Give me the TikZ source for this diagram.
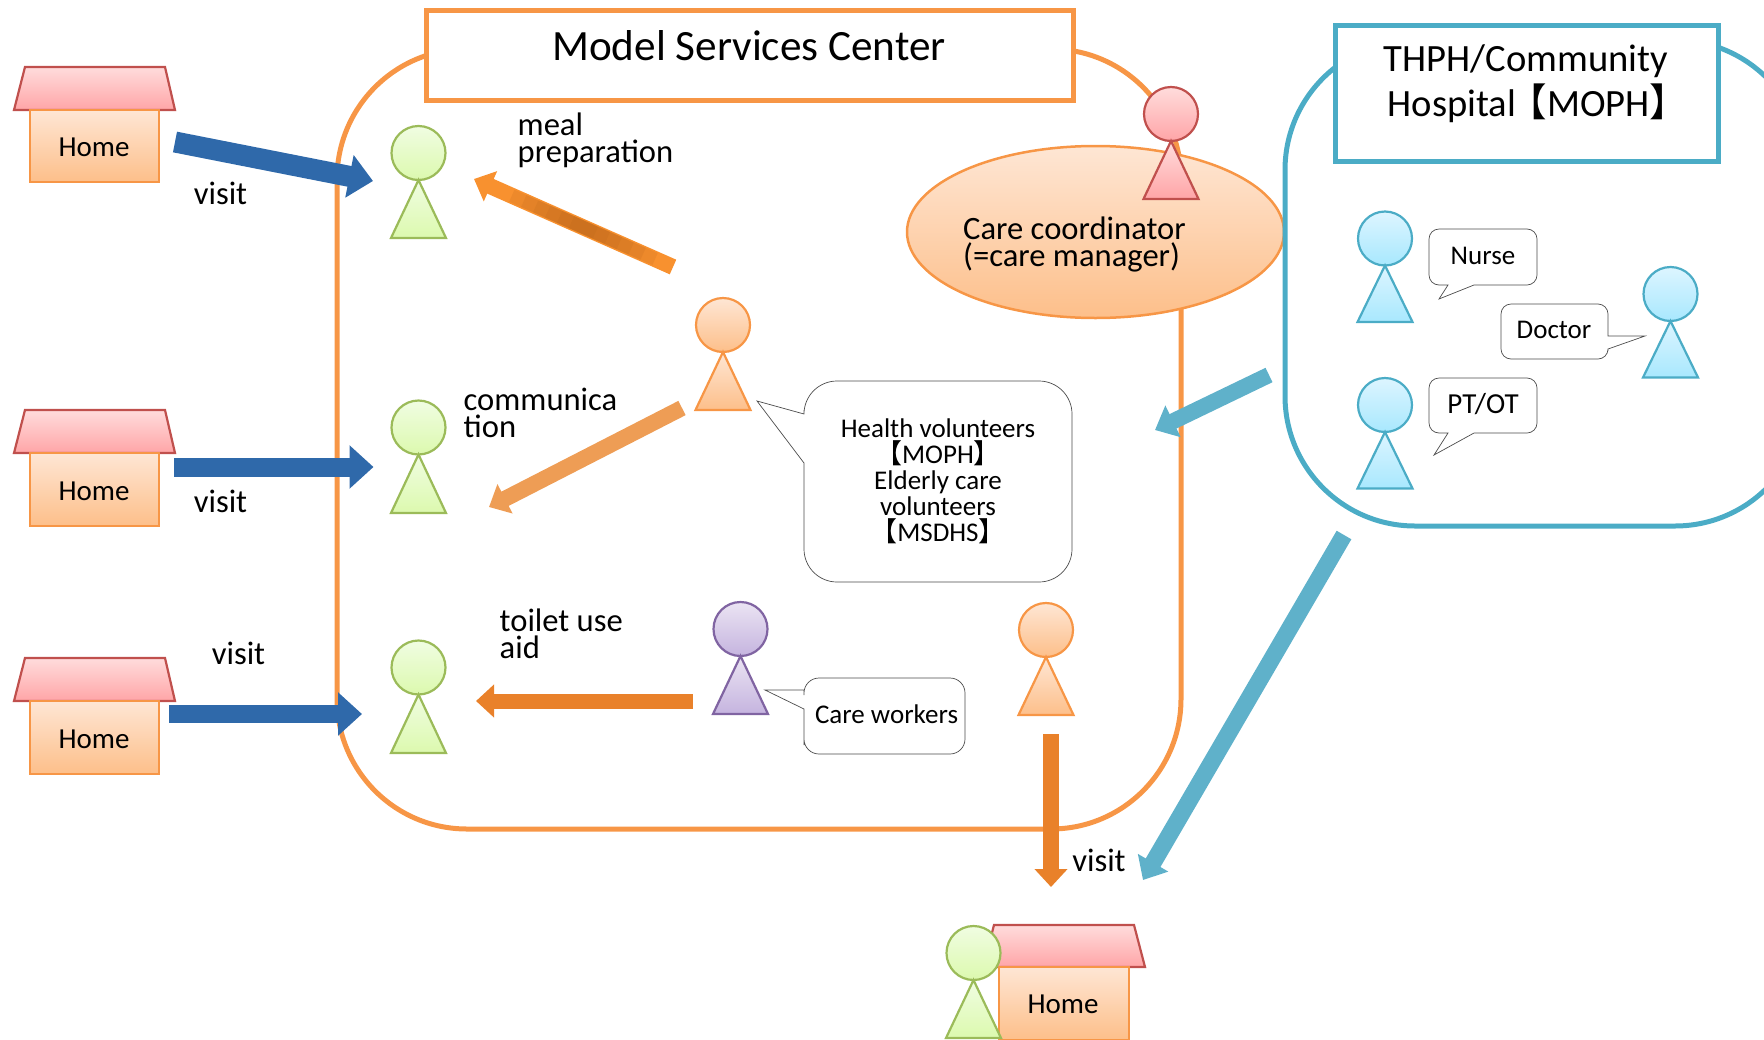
\documentclass[tikz,border=0pt]{standalone}
\usepackage{fontspec}
\setmainfont{Carlito}
\newfontfamily\cjk{Noto Sans CJK JP}
\usetikzlibrary{arrows.meta,shapes.geometric,calc}
\definecolor{orangeline}{HTML}{F79646}
\definecolor{tealline}{HTML}{4BACC6}
\definecolor{greenline}{HTML}{9BBB59}
\definecolor{redline}{HTML}{C0504D}
\definecolor{purpleline}{HTML}{8064A2}
\definecolor{greentop}{HTML}{F0FDE2}
\definecolor{greenbottom}{HTML}{DCF9AE}
\definecolor{orangetop}{HTML}{FEE6D4}
\definecolor{orangebottom}{HTML}{FDBF8A}
\definecolor{redtop}{HTML}{FFDCDC}
\definecolor{redbottom}{HTML}{FFA5A7}
\definecolor{purpletop}{HTML}{EBE4F3}
\definecolor{purplebottom}{HTML}{C5B4DF}
\definecolor{bluetop}{HTML}{DDF5FF}
\definecolor{bluebottom}{HTML}{A8E8FE}
\definecolor{bluearrow}{HTML}{2F69AA}
\definecolor{mealorange}{HTML}{F8912F}
\definecolor{mealdark}{HTML}{B9651A}
\definecolor{commorange}{HTML}{EE9D55}
\definecolor{toiletorange}{HTML}{E9812A}
\definecolor{tealarrow}{HTML}{5FB1CA}
\newcommand{\lbr}{{\cjk 【}}
\newcommand{\rbr}{{\cjk 】}}

\begin{document}
\begin{tikzpicture}[x=1pt,y=-1pt,
  greenfill/.style={draw=greenline,line width=2.2pt,top color=greentop,bottom color=greenbottom},
  orangefill/.style={draw=orangeline,line width=2.2pt,top color=orangetop,bottom color=orangebottom},
  redfill/.style={draw=redline,line width=2.2pt,top color=redtop,bottom color=redbottom},
  purplefill/.style={draw=purpleline,line width=2.2pt,top color=purpletop,bottom color=purplebottom},
  bluefill/.style={draw=tealline,line width=2.2pt,top color=bluetop,bottom color=bluebottom},
  head/.style={circle,minimum size=54pt,inner sep=0pt,outer sep=0pt},
  roof/.style={redfill},
  wall/.style={orangefill},
  bubble/.style={draw=black!70,line width=0.7pt,fill=white},
  titlebox/.style={draw,line width=5pt,fill=white,rectangle,inner sep=0pt},
  big/.style={font=\fontsize{43.2}{45}\selectfont,align=center,inner sep=0pt},
  mid/.style={font=\fontsize{32.6}{27}\selectfont,align=left,inner sep=0pt},
  small/.style={font=\fontsize{27}{26}\selectfont,align=center,inner sep=0pt},
  hometext/.style={font=\fontsize{29}{29}\selectfont,inner sep=0pt},
  block/.style={line cap=butt},
  blueblock/.style={block,draw=bluearrow,-{Triangle[width=42pt,length=24pt]}},
  orangeblock/.style={block,-{Triangle[width=32pt,length=18pt]}},
  tealblock/.style={block,draw=tealarrow,-{Triangle[width=34pt,length=20pt]}}]
\useasboundingbox (0,0) rectangle (1764,1039);

\draw[orangeline,line width=5pt,rounded corners=130pt] (337,49) rectangle (1181,829);
\node[titlebox,draw=orangeline,minimum width=647pt,minimum height=90pt] (modelbox) at (749.5,55) {};
\node[big] (modeltitle) at (749,46) {Model Services Center};

\node[ellipse,draw=orangeline,line width=2.5pt,top color=orangetop,bottom color=orangebottom,minimum width=377pt,minimum height=172pt,inner sep=0pt] (coordinator) at (1095.5,232) {};
\node[mid,anchor=west] (coordtext) at (963,244.5) {Care coordinator\\(=care manager)};

\draw[tealline,line width=5pt,rounded corners=130pt] (1285,40) rectangle (1805,526);
\node[titlebox,draw=tealline,minimum width=383pt,minimum height=136pt] (thphbox) at (1527,93) {};
\node[big,font=\fontsize{38.6}{45}\selectfont] (thphtitle) at (1526,83.5) {THPH/Community\\Hospital\kern-.2em\lbr MOPH\rbr\kern-.62em};

\draw[roof] (25,67) -- (165,67) -- (175,110) -- (14,110) -- cycle;
\draw[wall] (30,110) rectangle (159,182);
\node[hometext] (homeA) at (94,147) {Home};
\draw[roof] (25,410) -- (165,410) -- (175,453) -- (14,453) -- cycle;
\draw[wall] (30,453) rectangle (159,526);
\node[hometext] (homeB) at (94,491) {Home};
\draw[roof] (25,658) -- (165,658) -- (175,701) -- (14,701) -- cycle;
\draw[wall] (30,701) rectangle (159,774);
\node[hometext] (homeC) at (94,739) {Home};
\draw[roof] (994,925) -- (1134,925) -- (1145,967) -- (983,967) -- cycle;
\draw[wall] (999,967) rectangle (1129,1040);
\node[hometext] (homeD) at (1063,1004) {Home};

\node[head,greenfill] (elderA) at (418.5,153) {};
\draw[greenfill] (elderA.south) -- ++(27.5,58) -- ++(-55,0) -- cycle;
\node[head,greenfill] (elderB) at (418.5,427.5) {};
\draw[greenfill] (elderB.south) -- ++(27.5,58.5) -- ++(-55,0) -- cycle;
\node[head,greenfill] (elderC) at (418.5,667.5) {};
\draw[greenfill] (elderC.south) -- ++(27.5,58.5) -- ++(-55,0) -- cycle;
\node[head,greenfill] (elderD) at (973.5,953) {};
\draw[greenfill] (elderD.south) -- ++(27.5,58) -- ++(-55,0) -- cycle;
\node[head,orangefill] (volunteer) at (723,325) {};
\draw[orangefill] (volunteer.south) -- ++(27.5,58) -- ++(-55,0) -- cycle;
\node[head,orangefill] (staff) at (1046,630) {};
\draw[orangefill] (staff.south) -- ++(27.5,58) -- ++(-55,0) -- cycle;
\node[head,purplefill] (careworker) at (740.5,629) {};
\draw[purplefill] (careworker.south) -- ++(27.5,58) -- ++(-55,0) -- cycle;
\node[head,redfill] (manager) at (1171,114) {};
\draw[redfill] (manager.south) -- ++(27.5,58) -- ++(-55,0) -- cycle;
\node[head,bluefill] (nurse) at (1385,238.5) {};
\draw[bluefill] (nurse.south) -- ++(27.5,56.5) -- ++(-55,0) -- cycle;
\node[head,bluefill] (doctor) at (1670.5,294) {};
\draw[bluefill] (doctor.south) -- ++(27.5,56.5) -- ++(-55,0) -- cycle;
\node[head,bluefill] (ptot) at (1385,405) {};
\draw[bluefill] (ptot.south) -- ++(27.5,56.5) -- ++(-55,0) -- cycle;

\draw[bubble,rounded corners=33pt] (938,381) -- (1072,381) -- (1072,582) -- (804,582) -- (804,510) [sharp corners] -- (804,463) -- (757,401) -- (804,414) -- (804,410) [rounded corners=33pt] -- (804,381) -- cycle;
\node[small] (healthtext) at (938,481) {Health volunteers\\\lbr MOPH\rbr\\Elderly care\\volunteers\\\lbr MSDHS\rbr};
\draw[bubble,rounded corners=15pt] (885,678) -- (965,678) -- (965,754) -- (804,754) -- (804,730) [sharp corners] -- (804,709) -- (765,690) -- (804,690) -- (804,695) [rounded corners=15pt] -- (804,678) -- cycle;
\node[small] (workertext) at (886.5,714) {Care workers};
\draw[bubble,rounded corners=10pt] (1483,229) -- (1537,229) -- (1537,285) -- (1500,285) [sharp corners] -- (1474,285) -- (1439,299) -- (1448,285) -- (1445,285) [rounded corners=10pt] -- (1429,285) -- (1429,229) -- cycle;
\node[small] (nursetext) at (1483,256) {Nurse};
\draw[bubble,rounded corners=10pt] (1554,304) -- (1608,304) -- (1608,325) [sharp corners] -- (1608,336) -- (1645,336) -- (1608,349) -- (1608,351) [rounded corners=10pt] -- (1608,359) -- (1501,359) -- (1501,304) -- cycle;
\node[small] (doctortext) at (1554,330) {Doctor};
\draw[bubble,rounded corners=10pt] (1483,378) -- (1537,378) -- (1537,433) -- (1500,433) [sharp corners] -- (1474,433) -- (1434,455) -- (1448,433) -- (1445,433) [rounded corners=10pt] -- (1429,433) -- (1429,378) -- cycle;
\node[small,font=\fontsize{29}{29}\selectfont] (pttext) at (1483,404) {PT/OT};

\coordinate (visitAfrom) at (175,142);
\coordinate (visitAto) at (373,181);
\coordinate (visitBfrom) at (174,467);
\coordinate (visitBto) at (373.5,467);
\coordinate (visitCfrom) at (169,714);
\coordinate (visitCto) at (362,714);
\coordinate (mealfrom) at (673,267);
\coordinate (mealto) at (474,179);
\coordinate (commfrom) at (682,408);
\coordinate (commto) at (489,507);
\coordinate (toiletfrom) at (693,701);
\coordinate (toiletto) at (476,701);
\coordinate (visitDfrom) at (1051,734);
\coordinate (visitDto) at (1051,887);
\coordinate (supportfrom) at (1269,375);
\coordinate (supportto) at (1155,430);
\coordinate (visitEfrom) at (1344,535);
\coordinate (visitEto) at (1143,880);

\draw[blueblock,line width=21pt] (visitAfrom) -- (visitAto);
\draw[blueblock,line width=19pt] (visitBfrom) -- (visitBto);
\draw[blueblock,line width=18pt] (visitCfrom) -- (visitCto);
\draw[orangeblock,draw=mealorange,line width=16pt] (mealfrom) -- (mealto);
\foreach \r in {0.06,0.12,0.18,0.24,0.30,0.36}
  \draw[mealdark,opacity=0.17,line width=13pt] ($(mealfrom)!0.45-\r!(mealto)$) -- ($(mealfrom)!0.45+\r!(mealto)$);
\draw[orangeblock,draw=commorange,line width=16pt] (commfrom) -- (commto);
\draw[orangeblock,draw=toiletorange,line width=15pt] (toiletfrom) -- (toiletto);
\draw[orangeblock,draw=toiletorange,line width=16pt] (visitDfrom) -- (visitDto);
\draw[tealblock,line width=16pt] (supportfrom) -- (supportto);
\draw[tealblock,line width=17pt] (visitEfrom) -- (visitEto);

\node[mid] (visitA) at (220.5,193) {visit};
\node[mid] (visitB) at (220.5,501) {visit};
\node[mid] (visitC) at (238.5,653) {visit};
\node[mid] (visitD) at (1099,860.5) {visit};
\node[mid,anchor=west] (mealtext) at (517.5,140) {meal\\preparation};
\node[mid,anchor=west] (commtext) at (463.5,412.5) {communica\\tion};
\node[mid,anchor=west] (toilettext) at (499.5,634) {toilet use\\aid};
\end{tikzpicture}
\end{document}
